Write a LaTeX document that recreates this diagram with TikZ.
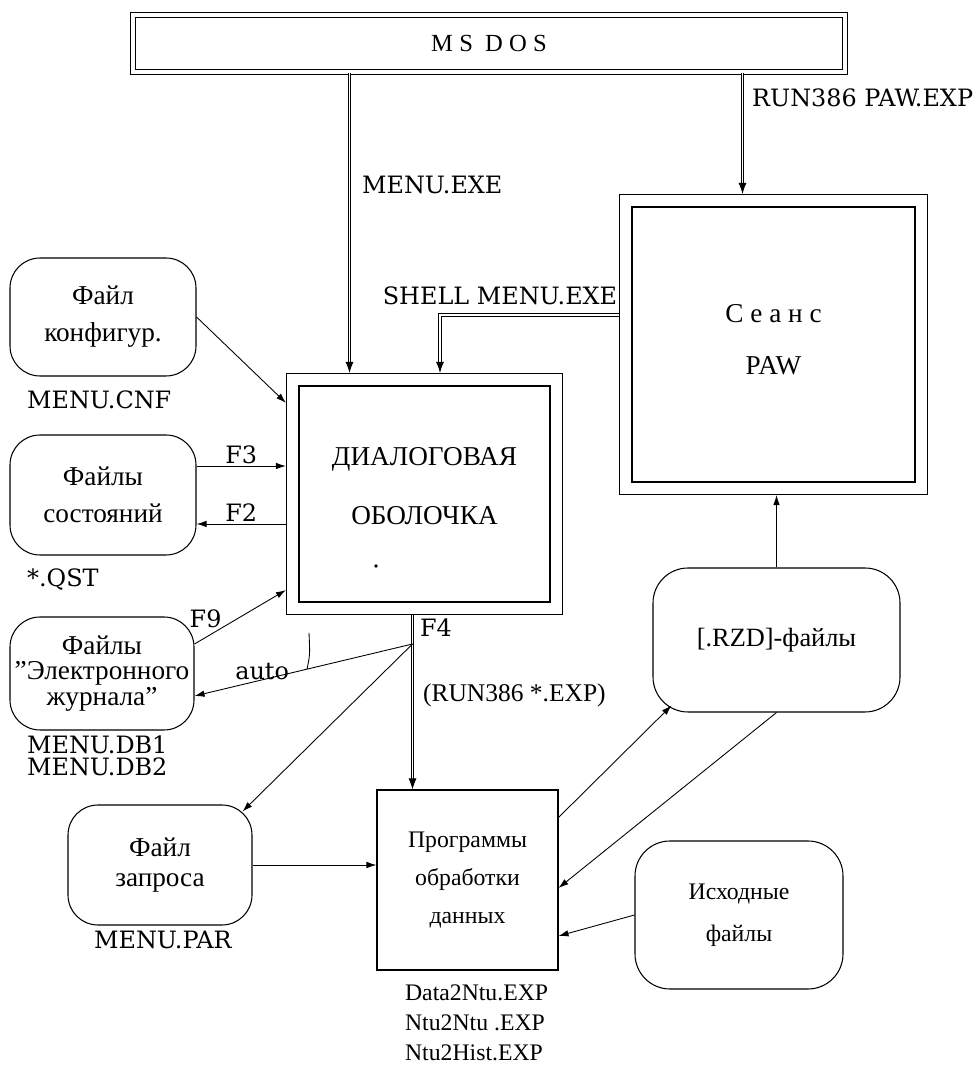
\documentclass[tikz,border=0pt]{standalone}
\usepackage{fontspec}
\setmainfont{Liberation Serif}
\newfontfamily\shkfont{Liberation Serif}
\newfontfamily\metfont{DejaVu Serif}
\usetikzlibrary{arrows.meta,fit}
\tikzset{
  ramka/.style={draw, line width=0.6pt, align=center, inner sep=0pt,
                font=\fontsize{15.5}{17}\selectfont},
  ramkavnesh/.style={draw, line width=0.6pt, inner sep=0.24cm},
  dosramka/.style={draw, double, double distance=2pt, line width=0.7pt, inner sep=0pt,
                font=\fontsize{14}{16}\selectfont},
  kruglo/.style={draw, line width=0.6pt, rounded corners=0.6cm, align=center, inner sep=0pt,
                font=\shkfont\fontsize{15.5}{21}\selectfont},
  strelka/.style={-{Latex[length=2mm,width=1.3mm]}, line width=0.5pt},
  dvojn/.style={double, double distance=1.1pt, line width=0.5pt, -{Latex[length=2.2mm,width=1.6mm]}},
  metka/.style={font=\metfont\fontsize{13.6}{15}\selectfont, inner sep=1pt},
  metkarm/.style={font=\fontsize{14.5}{16}\selectfont, inner sep=1pt},
}

\begin{document}
\begin{tikzpicture}
  \useasboundingbox (0,0) rectangle (19.6,21.3);

  % ------------------------------------------------------------------ verkh
  \node[dosramka, minimum width=14.24cm, minimum height=1.14cm] (msdos) at (9.78,20.43) {M S~~D O S};

  \node[ramka, minimum width=5.02cm, minimum height=4.32cm] (dialog) at (8.49,11.42)
    {ДИАЛОГОВАЯ\\[17pt]ОБОЛОЧКА\\[-8pt]};
  \node[ramkavnesh, fit=(dialog)] (dialogout) {};
  \fill (7.52,9.98) circle (1.1pt);

  \node[ramka, minimum width=5.66cm, minimum height=5.5cm] (paw) at (15.47,14.41)
    {С е а н с\\[13pt]PAW\\[-11.4pt]};
  \node[ramkavnesh, fit=(paw)] (pawout) {};

  \node[ramka, minimum width=3.62cm, minimum height=3.6cm, font=\fontsize{13.5}{21.5}\selectfont]
    (prog) at (9.35,3.7) {Программы\\обработки\\данных};

  % ------------------------------------------------------------------ fajly
  \node[kruglo, minimum width=3.72cm, minimum height=2.36cm] (konfig) at (2.06,14.96) {Файл\\конфигур.};
  \node[kruglo, minimum width=3.72cm, minimum height=2.4cm] (sost) at (2.06,11.4) {Файлы\\состояний};
  \node[kruglo, minimum width=3.68cm, minimum height=2.26cm, font=\shkfont\fontsize{15.5}{14.5}\selectfont]
    (zhurnal) at (2.04,7.83) {Файлы\\”Электронного\\журнала”};
  \node[kruglo, minimum width=3.68cm, minimum height=2.4cm, font=\shkfont\fontsize{15.5}{17}\selectfont]
    (zapros) at (3.2,4.0) {Файл\\запроса};
  \node[kruglo, rounded corners=0.7cm, minimum width=4.94cm, minimum height=2.88cm,
        font=\fontsize{15}{17}\selectfont] (rzd) at (15.53,8.5) {[.RZD]-файлы};
  \node[kruglo, rounded corners=0.7cm, minimum width=4.16cm, minimum height=2.96cm,
        font=\fontsize{13.5}{24}\selectfont] (ishod) at (14.78,3.0) {Исходные\\файлы};

  % metki fajlov
  \node[metka, anchor=west] (cnf) at (0.5,13.3) {MENU.CNF};
  \node[metka, anchor=west] (qst) at (0.5,9.7) {*.QST};
  \node[metka, anchor=west, align=left, font=\metfont\fontsize{13.6}{12.5}\selectfont]
    (dbs) at (0.5,6.18) {MENU.DB1\\MENU.DB2};
  \node[metka, anchor=west] (par) at (1.84,2.5) {MENU.PAR};
  \node[metkarm, anchor=north west, align=left, font=\fontsize{13.5}{17}\selectfont]
    (exps) at (8.06,1.64) {Data2Ntu.EXP\\Ntu2Ntu .EXP\\Ntu2Hist.EXP};

  % ------------------------------------------------------------------ svjazi
  \node[metka, anchor=west] (menuexe) at (7.2,17.6) {MENU.EXE};
  \node[metka, anchor=west] (runpaw) at (15.0,19.34) {RUN386 PAW.EXP};
  \node[metka] (shell) at (10.0,15.38) {SHELL MENU.EXE};
  \node[metkarm, anchor=west] (runexp) at (8.42,7.4) {(RUN386 *.EXP)};
  \node[metka, anchor=west] (f4lab) at (8.36,8.74) {F4};
  \coordinate (f4) at (8.25,8.42);

  \draw[dvojn] ([xshift=-1.5cm]dialogout.north |- msdos.south) -- ([xshift=-1.5cm]dialogout.north);
  \draw[dvojn] ([xshift=-0.62cm]pawout.north |- msdos.south) -- ([xshift=-0.62cm]pawout.north);
  \draw[dvojn] ([yshift=0.59cm]pawout.west) -| ([xshift=0.31cm]dialogout.north);
  \draw[dvojn] ([xshift=-0.24cm]dialogout.south) -- ([xshift=-0.24cm]dialogout.south |- prog.north);

  \draw[strelka] (konfig.east) -- ([yshift=-0.6cm]dialogout.north west);
  \draw[strelka] ([yshift=0.58cm]sost.east) -- ([yshift=0.58cm]sost.east -| dialogout.west)
    node[metka, midway, above] {F3};
  \draw[strelka] ([yshift=-0.58cm]sost.east -| dialogout.west) -- ([yshift=-0.58cm]sost.east)
    node[metka, midway, above] {F2};
  \draw[strelka] ([yshift=0.59cm]zhurnal.east) -- ([yshift=0.5cm]dialogout.south west)
    node[metka, pos=0.3, above left=-1pt] {F9};
  \draw[strelka] (f4) -- ([yshift=-0.45cm]zhurnal.east)
    node[metka, pos=0.69, above=-1pt] {auto};
  \draw[line width=0.5pt] (6.14,7.92) .. controls (6.2,8.2) .. (6.18,8.64);
  \draw[strelka] (f4) -- ([shift={(-0.2,-0.14)}]zapros.north east);
  \draw[strelka] (zapros.east) -- (zapros.east -| prog.west);
  \draw[strelka] ([yshift=-0.56cm]prog.north east) -- ([shift={(0.38,0.14)}]rzd.south west);
  \draw[strelka] (rzd.south) -- ([yshift=-0.16cm]prog.east);
  \draw[strelka] (ishod.west) -- ([yshift=-1.12cm]prog.east);
  \draw[strelka] (rzd.north) -- (rzd.north |- pawout.south);
\end{tikzpicture}
\end{document}
